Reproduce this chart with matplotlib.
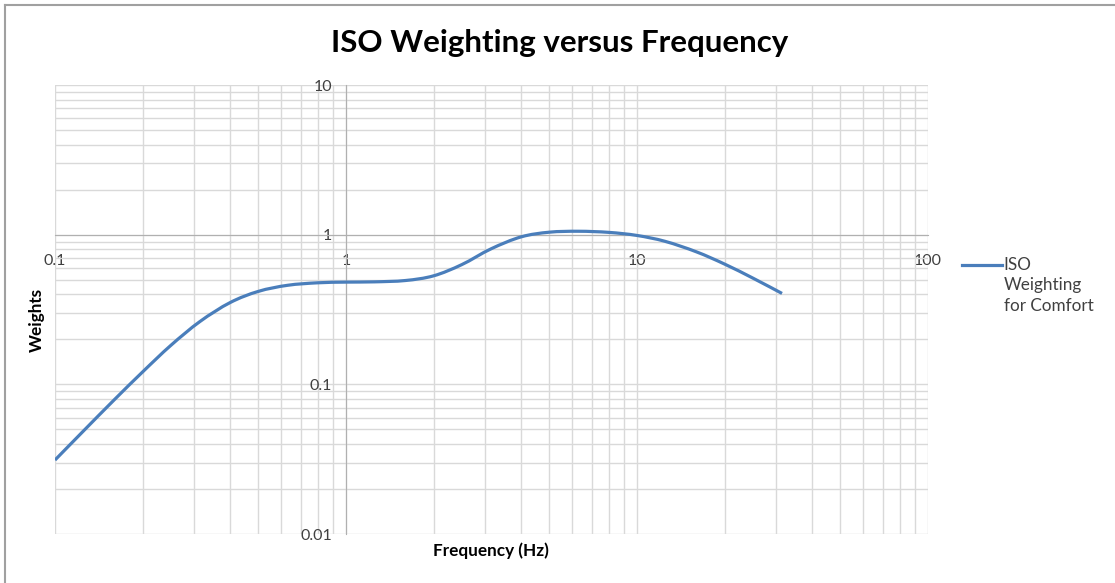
import numpy as np
import matplotlib.pyplot as plt
from matplotlib.ticker import LogLocator, FuncFormatter, NullFormatter
from matplotlib.lines import Line2D
from matplotlib.path import Path
from matplotlib.patches import PathPatch

# one-third octave band centre frequencies (Hz) and weighting
freqs = [0.1, 0.125, 0.16, 0.2, 0.25, 0.315, 0.4, 0.5, 0.63, 0.8, 1.0, 1.25, 1.6, 2.0,
         2.5, 3.15, 4.0, 5.0, 6.3, 8.0, 10.0, 12.5, 16.0, 20.0, 25.0, 31.5]
weights = [0.0312, 0.0486, 0.079, 0.121, 0.182, 0.263, 0.352, 0.418, 0.459, 0.477, 0.482,
           0.484, 0.494, 0.531, 0.631, 0.804, 0.967, 1.039, 1.054, 1.036, 0.988, 0.902,
           0.768, 0.636, 0.513, 0.405]
seriesName = "ISO\nWeighting\nfor Comfort"

lineColor = '#4A7EBB'
gridColor = '#d9d9d9'
textColor = '#404040'


def smoothPath(x, y):
    # Excel style smoothed line: Catmull-Rom bezier segments in log space
    p = np.column_stack([np.log10(x), np.log10(y)])
    p = np.vstack([p[0], p, p[-1]])
    verts = [p[1]]
    codes = [Path.MOVETO]
    for i in range(1, len(p) - 2):
        c1 = p[i] + (p[i + 1] - p[i - 1]) / 6.0
        c2 = p[i + 1] - (p[i + 2] - p[i]) / 6.0
        verts += [c1, c2, p[i + 1]]
        codes += [Path.CURVE4] * 3
    return Path(10 ** np.array(verts), codes)


plt.rcParams['font.family'] = ['Lato', 'DejaVu Sans']

fig = plt.figure(figsize=(11.15, 5.83), dpi=100)
ax = fig.add_axes([0.0493, 0.084, 0.7830, 0.7702])

ax.add_patch(PathPatch(smoothPath(freqs, weights), fill=False, edgecolor=lineColor,
                       lw=2.3, capstyle='butt', zorder=3))

ax.set_xscale('log')
ax.set_yscale('log')
ax.set_xlim(0.1, 100)
ax.set_ylim(0.01, 10)

for a in (ax.xaxis, ax.yaxis):
    a.set_major_locator(LogLocator(base=10))
    a.set_minor_locator(LogLocator(base=10, subs=np.arange(2, 10)))
    a.set_major_formatter(FuncFormatter(lambda v, p: '%g' % v))
    a.set_minor_formatter(NullFormatter())

ax.grid(True, which='both', color=gridColor, lw=1.0, zorder=0)
ax.set_axisbelow(True)

# axes cross at (1, 1) like Excel
ax.spines['left'].set_position(('data', 1))
ax.spines['bottom'].set_position(('data', 1))
ax.spines['left'].set_color('#b0b0b0')
ax.spines['bottom'].set_color('#b0b0b0')
ax.spines['right'].set_visible(False)
ax.spines['top'].set_visible(False)
ax.tick_params(which='both', length=0)
ax.tick_params(axis='x', pad=14, labelsize=11.5, labelcolor=textColor)
ax.tick_params(axis='y', pad=10, labelsize=11.5, labelcolor=textColor)

fig.text(0.502, 0.927, "ISO Weighting versus Frequency", ha='center', va='center',
         fontsize=22.5, fontweight='bold', color='black')
fig.text(0.4405, 0.055, "Frequency (Hz)", ha='center', va='center',
         fontsize=12.3, fontweight='bold', color='black')
fig.text(0.033, 0.451, "Weights", ha='center', va='center', rotation=90,
         fontsize=12.3, fontweight='bold', color='black')

# legend
fig.add_artist(Line2D([0.8628, 0.8987], [0.545, 0.545], color=lineColor, lw=2.3,
                      transform=fig.transFigure))
fig.text(0.900, 0.560, seriesName, ha='left', va='top', fontsize=12.3,
         color=textColor, linespacing=1.38)

# chart frame (top and left edges visible)
fig.add_artist(Line2D([0.0045, 0.0045], [0, 0.991], color='#a0a0a0', lw=1.5,
                      transform=fig.transFigure))
fig.add_artist(Line2D([0.0045, 1.0], [0.991, 0.991], color='#a0a0a0', lw=1.5,
                      transform=fig.transFigure))

fig.savefig('out.png', dpi=100)
